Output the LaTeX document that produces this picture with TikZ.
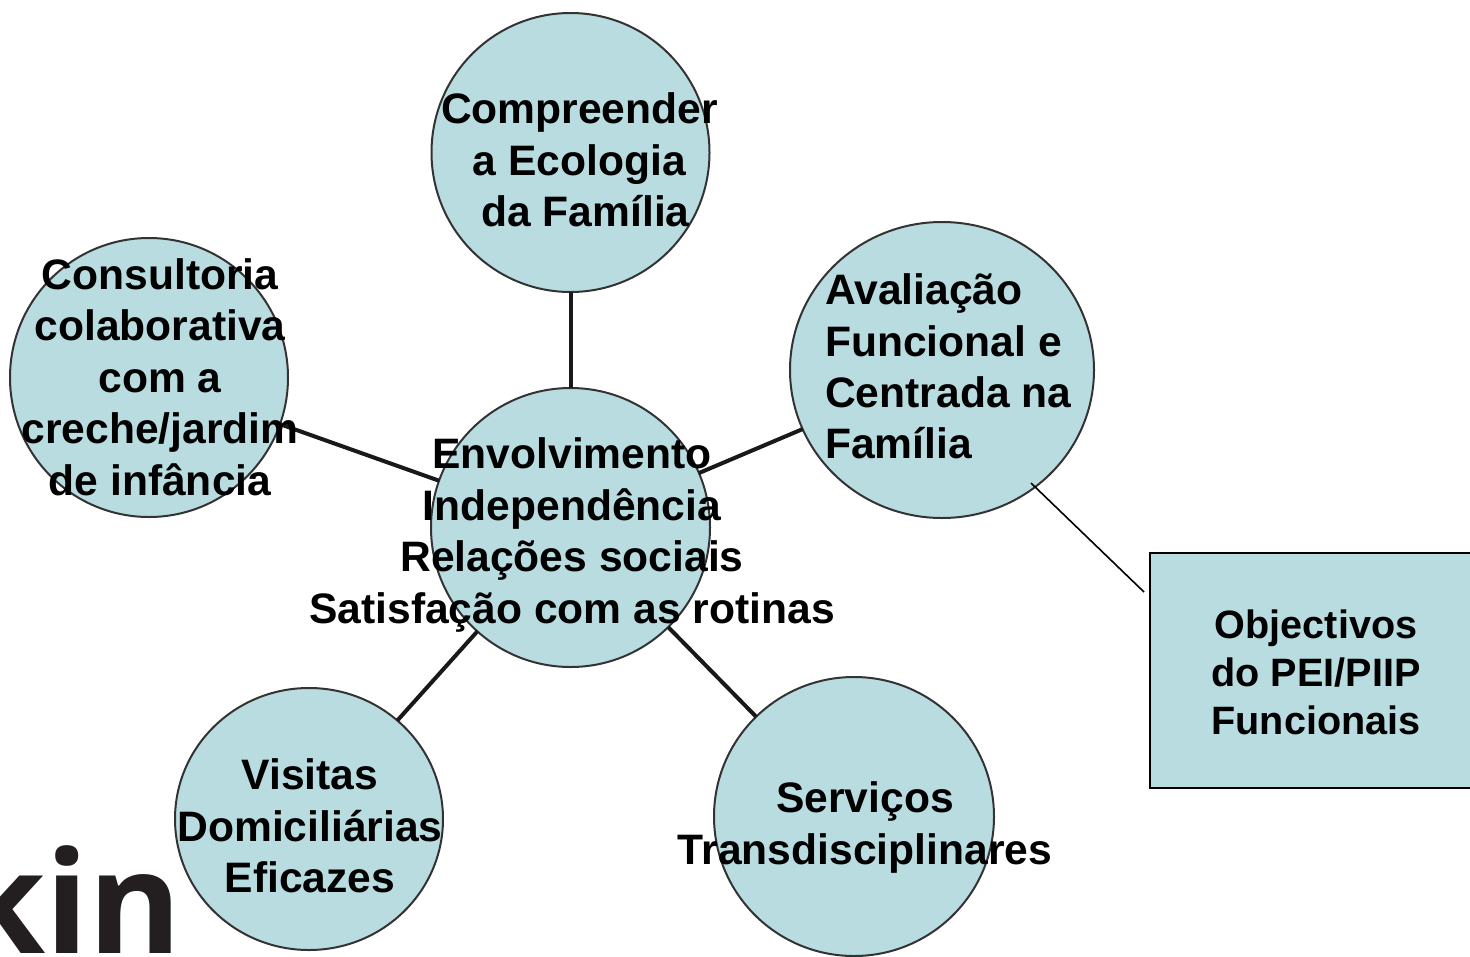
\documentclass[tikz,border=0pt]{standalone}
\usepackage{fontspec}
\usetikzlibrary{shapes.geometric}
\setmainfont{Liberation Sans}
\newfontfamily\logofont{Open Sans}
\definecolor{disc}{HTML}{B9DCE0}
\definecolor{ink}{HTML}{231F20}
\tikzset{
  x=1pt,y=-1pt,
  bubble/.style={ellipse,draw=black!80,line width=2pt,fill=disc,inner sep=0pt,outer sep=0pt},
  spoke/.style={draw=black!90,line width=4pt},
  label/.style={inner sep=0pt,font=\fontsize{42.6}{51.4}\selectfont\bfseries,text=black},
  callout/.style={draw=black,line width=1.6pt},
}
\begin{document}
\begin{tikzpicture}
\useasboundingbox (0,0) rectangle (1470,956);
\begin{scope}
\clip (0,0) rectangle (172,953);
\node[inner sep=0pt,anchor=base east,font=\fontsize{142}{142}\selectfont\logofont\bfseries,text=ink] (logo) at (182,953) {kin};
\end{scope}
\begin{scope}
\clip (0,0) rectangle (1470,956);
\node[bubble,minimum width=278pt,minimum height=279pt] (top) at (570.5,152.5) {};
\node[bubble,minimum width=304pt,minimum height=296pt] (right) at (942,370) {};
\node[bubble,minimum width=278pt,minimum height=279pt] (left) at (149,377.5) {};
\node[bubble,minimum width=279pt,minimum height=279pt] (mid) at (570.5,527.5) {};
\node[bubble,minimum width=268pt,minimum height=262pt] (bl) at (309,819) {};
\node[bubble,minimum width=280pt,minimum height=279pt] (br) at (854,816.5) {};
\draw[spoke] (mid) -- (top);
\draw[spoke] (mid) -- (right);
\draw[spoke] (mid) -- (left);
\draw[spoke] (mid) -- (bl);
\draw[spoke] (mid) -- (br);
\node[draw=black,line width=2pt,fill=disc,minimum width=340pt,minimum height=235pt,inner sep=0pt] (goal) at (1320,670.5) {};
\coordinate (calloutA) at (1031,483);
\coordinate (calloutB) at (1144,592);
\draw[callout] (calloutA) -- (calloutB);
\node[label,align=center] (ttop) at (579.5,160) {Compreender\\a Ecologia\\\hspace*{12pt}da Família};
\node[label,align=left,anchor=west] (tright) at (825,366.5) {Avaliação\\Funcional e\\Centrada na\\Família};
\node[label,align=center] (tleft) at (160,377) {Consultoria\\colaborativa\\com a\\creche/jardim\\de infância};
\node[label,align=center] (tmid) at (572,535) {Envolvimento\\Independência\\Relações sociais\\Satisfação com as rotinas};
\node[label,align=center] (tbl) at (310,826) {Visitas\\Domiciliárias\\Eficazes};
\node[label,align=center] (tbr) at (865,827.5) {Serviços\\Transdisciplinares};
\node[label,align=center,font=\fontsize{39.6}{47.8}\selectfont\bfseries] (tgoal) at (1316,672.5) {Objectivos\\do PEI/PIIP\\Funcionais};
\end{scope}
\end{tikzpicture}
\end{document}
